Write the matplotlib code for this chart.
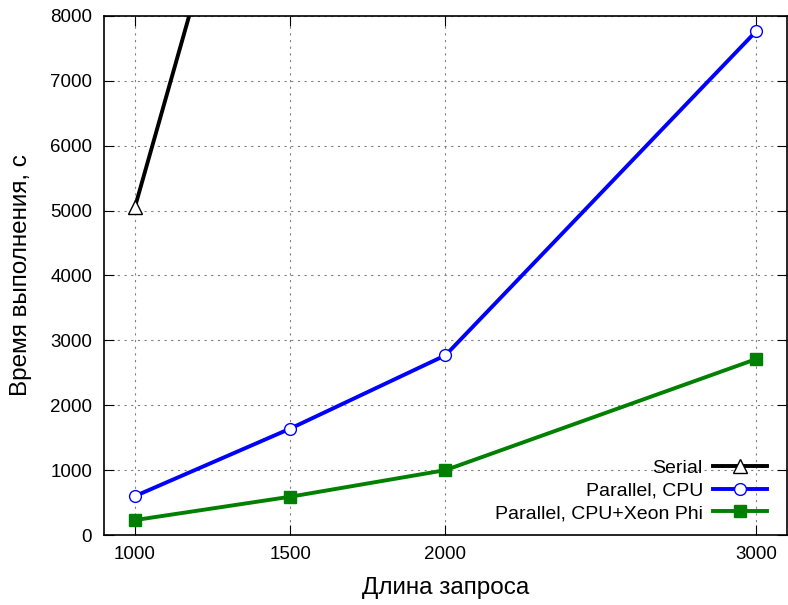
import matplotlib
matplotlib.use('Agg')
import matplotlib.pyplot as plt

plt.rcParams['font.family'] = ['Liberation Sans', 'DejaVu Sans']

# данные
x = [1000, 1500, 2000, 3000]
serial_x = [1000, 1500]
serial_y = [5060, 13500]
cpu_y = [600, 1640, 2770, 7760]
phi_y = [230, 590, 1000, 2710]
xticks = [1000, 1500, 2000, 3000]
yticks = list(range(0, 8001, 1000))

fig = plt.figure(figsize=(7.88, 6.05), dpi=100)
ax = fig.add_axes([0.132, 0.1157, 0.8667, 0.858])

ax.plot(serial_x, serial_y, '-', color='black', linewidth=2.8,
        marker='^', markersize=10, markerfacecolor='white',
        markeredgecolor='black', markeredgewidth=1, label='Serial')
ax.plot(x, cpu_y, '-', color='blue', linewidth=2.8,
        marker='o', markersize=8.5, markerfacecolor='white',
        markeredgecolor='blue', markeredgewidth=1, label='Parallel, CPU')
ax.plot(x, phi_y, '-', color='green', linewidth=2.8,
        marker='s', markersize=8, markerfacecolor='green',
        markeredgecolor='green', label='Parallel, CPU+Xeon Phi')

ax.set_xlim(900, 3100)
ax.set_ylim(0, 8000)
ax.set_xticks(xticks)
ax.set_yticks(yticks)
ax.tick_params(direction='in', top=True, right=True, length=7,
               labelsize=13.5)
ax.tick_params(axis='y', pad=8.5)
ax.tick_params(axis='x', pad=8)
ax.grid(True, linestyle=(0, (2, 4)), color='gray', linewidth=0.8)
for s in ax.spines.values():
    s.set_linewidth(1.2)

ax.set_xlabel('Длина запроса', fontsize=17.5, labelpad=10)
ax.set_ylabel('Время выполнения, с', fontsize=17.5, labelpad=13)

ax.legend(loc='lower right', frameon=False, markerfirst=False,
          fontsize=14, handlelength=2.8, handletextpad=0.5,
          labelspacing=0.25, borderpad=0, borderaxespad=0,
          bbox_to_anchor=(0.9707, 0.025))

fig.savefig('out.png', dpi=100)
